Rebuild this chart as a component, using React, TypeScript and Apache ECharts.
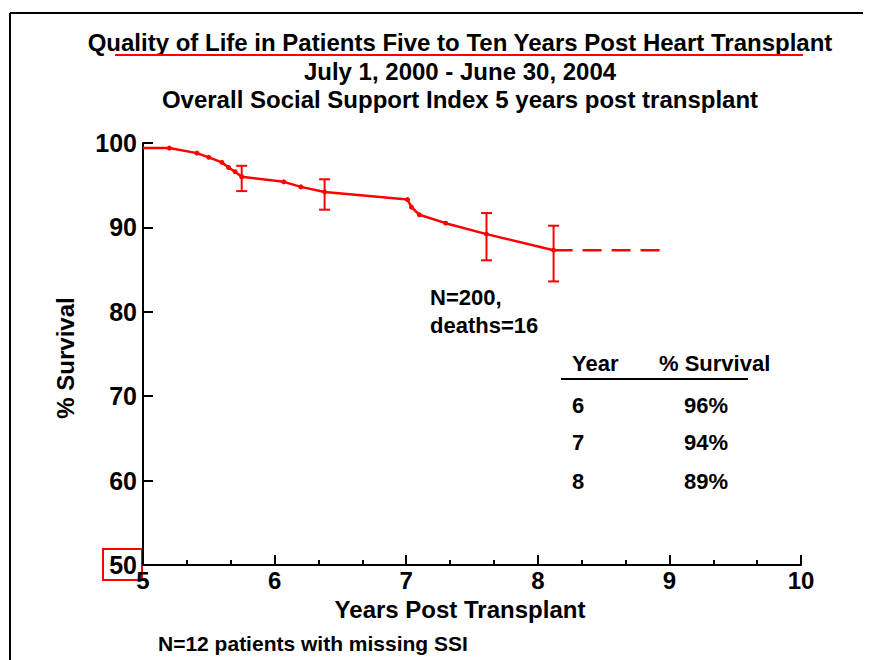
import React, { useEffect, useRef } from "react";
import * as echarts from "echarts";

const titleLines = [
  "Quality of Life in Patients Five to Ten Years Post Heart Transplant",
  "July 1, 2000 - June 30, 2004",
  "Overall Social Support Index 5 years post transplant",
];

// Kaplan-Meier survival curve points: [years post transplant, % survival]
const survivalPoints: number[][] = [
  [5.0, 99.4],
  [5.2, 99.4],
  [5.41, 98.8],
  [5.5, 98.3],
  [5.6, 97.7],
  [5.65, 97.1],
  [5.7, 96.6],
  [5.75, 96.0],
  [6.07, 95.4],
  [6.2, 94.8],
  [6.38, 94.2],
  [7.01, 93.3],
  [7.04, 92.4],
  [7.1, 91.5],
  [7.3, 90.5],
  [7.61, 89.2],
  [8.12, 87.3],
];

// censored extension (dashed)
const extensionPoints: number[][] = [
  [8.12, 87.3],
  [8.94, 87.3],
];

// error bars: [x, low, high]
const errorBars: number[][] = [
  [5.75, 94.3, 97.3],
  [6.38, 92.1, 95.7],
  [7.61, 86.1, 91.7],
  [8.12, 83.6, 90.2],
];

const tableHeader = ["Year", "% Survival"];
const tableYears = ["6", "7", "8"];
const tableSurvival = ["96%", "94%", "89%"];

const noteLines = ["N=200,", "deaths=16"];
const footnote = "N=12 patients with missing SSI";

const FONT = "Liberation Sans, Arial, Helvetica, sans-serif";
const RED = "#ff0000";

export default function App() {
  const ref = useRef<HTMLDivElement>(null);

  useEffect(() => {
    document.body.style.margin = "0";
    if (!ref.current) return;
    const chart = echarts.init(ref.current, undefined, { renderer: "svg" });

    const tableRowY = [405, 442, 481];
    const txt = (t: string, x: number, y: number, size: number, align = "left") => ({
      type: "text",
      x,
      y,
      style: {
        text: t,
        textAlign: align,
        textVerticalAlign: "middle",
        font: `bold ${size}px ${FONT}`,
        fill: "#000",
      },
    });

    const graphics: any[] = [
      // frame
      { type: "line", shape: { x1: 10, y1: 13, x2: 863, y2: 13 }, style: { stroke: "#000", lineWidth: 2 } },
      { type: "line", shape: { x1: 10, y1: 13, x2: 10, y2: 660 }, style: { stroke: "#000", lineWidth: 2 } },
      // titles
      ...titleLines.map((t, i) => txt(t, 460, [42, 71, 99][i], 24, "center")),
      // red underline
      { type: "line", shape: { x1: 115, y1: 55, x2: 803, y2: 55 }, style: { stroke: RED, lineWidth: 2 } },
      // red box around 50
      { type: "rect", shape: { x: 103, y: 549, width: 39, height: 31 }, style: { stroke: RED, fill: "none", lineWidth: 2 } },
      // notes
      ...noteLines.map((t, i) => txt(t, 430, [297, 325][i], 22)),
      // table header
      txt(tableHeader[0], 572, 363, 22),
      txt(tableHeader[1], 659, 363, 22),
      { type: "line", shape: { x1: 561, y1: 379, x2: 748, y2: 379 }, style: { stroke: "#000", lineWidth: 2 } },
      ...tableYears.map((t, i) => txt(t, 572, tableRowY[i], 22)),
      ...tableSurvival.map((t, i) => txt(t, 684, tableRowY[i], 22)),
      // footnote
      txt(footnote, 158, 643, 21),
    ];

    chart.setOption({
      animation: false,
      backgroundColor: "#fff",
      grid: { left: 143, top: 143, width: 658, height: 422, containLabel: false },
      xAxis: {
        type: "value",
        min: 5,
        max: 10,
        interval: 1,
        name: "Years Post Transplant",
        nameLocation: "middle",
        nameGap: 32,
        nameMoveOverlap: false,
        nameTextStyle: {
          fontFamily: FONT,
          fontWeight: "bold",
          fontSize: 24,
          color: "#000",
          padding: [0, 24, 0, 0],
        },
        axisLine: { show: true, lineStyle: { color: "#000", width: 2 } },
        axisTick: { show: true, inside: true, length: 10, lineStyle: { color: "#000", width: 2 } },
        minorTick: { show: true, splitNumber: 3, length: 5, lineStyle: { color: "#000", width: 2 } },
        axisLabel: { margin: 3, fontFamily: FONT, fontWeight: "bold", fontSize: 24, color: "#000" },
        splitLine: { show: false },
        minorSplitLine: { show: false },
      },
      yAxis: {
        type: "value",
        min: 50,
        max: 100,
        interval: 10,
        name: "% Survival",
        nameLocation: "middle",
        nameGap: 66,
        nameRotate: 90,
        nameTextStyle: {
          fontFamily: FONT,
          fontWeight: "bold",
          fontSize: 24,
          color: "#000",
          padding: [0, 8, 0, 0],
        },
        axisLine: { show: true, lineStyle: { color: "#000", width: 2 } },
        axisTick: { show: true, inside: true, length: 10, lineStyle: { color: "#000", width: 2 } },
        axisLabel: { margin: 6, fontFamily: FONT, fontWeight: "bold", fontSize: 25, color: "#000" },
        splitLine: { show: false },
      },
      series: [
        {
          type: "line",
          data: survivalPoints.map((p, i) => (i === 0 ? { value: p, symbol: "none" } : p)),
          symbol: "circle",
          symbolSize: 5,
          showSymbol: true,
          itemStyle: { color: RED },
          lineStyle: { color: RED, width: 2.5 },
          z: 3,
        },
        {
          type: "line",
          data: extensionPoints,
          symbol: "none",
          lineStyle: { color: RED, width: 2.5, type: [19, 10] },
          z: 2,
        },
        {
          type: "custom",
          data: errorBars,
          encode: { x: 0, y: [1, 2] },
          renderItem: (params: any, api: any) => {
            const x = api.value(0);
            const lo = api.coord([x, api.value(1)]);
            const hi = api.coord([x, api.value(2)]);
            const cap = 5.5;
            const st = { stroke: RED, lineWidth: 2 };
            return {
              type: "group",
              children: [
                { type: "line", shape: { x1: lo[0], y1: lo[1], x2: hi[0], y2: hi[1] }, style: st },
                { type: "line", shape: { x1: lo[0] - cap, y1: lo[1], x2: lo[0] + cap, y2: lo[1] }, style: st },
                { type: "line", shape: { x1: hi[0] - cap, y1: hi[1], x2: hi[0] + cap, y2: hi[1] }, style: st },
              ],
            };
          },
          z: 4,
        },
      ],
      graphic: graphics,
    });

    return () => chart.dispose();
  }, []);

  return <div ref={ref} style={{ position: "fixed", left: 0, top: 0, width: 869, height: 660 }} />;
}
